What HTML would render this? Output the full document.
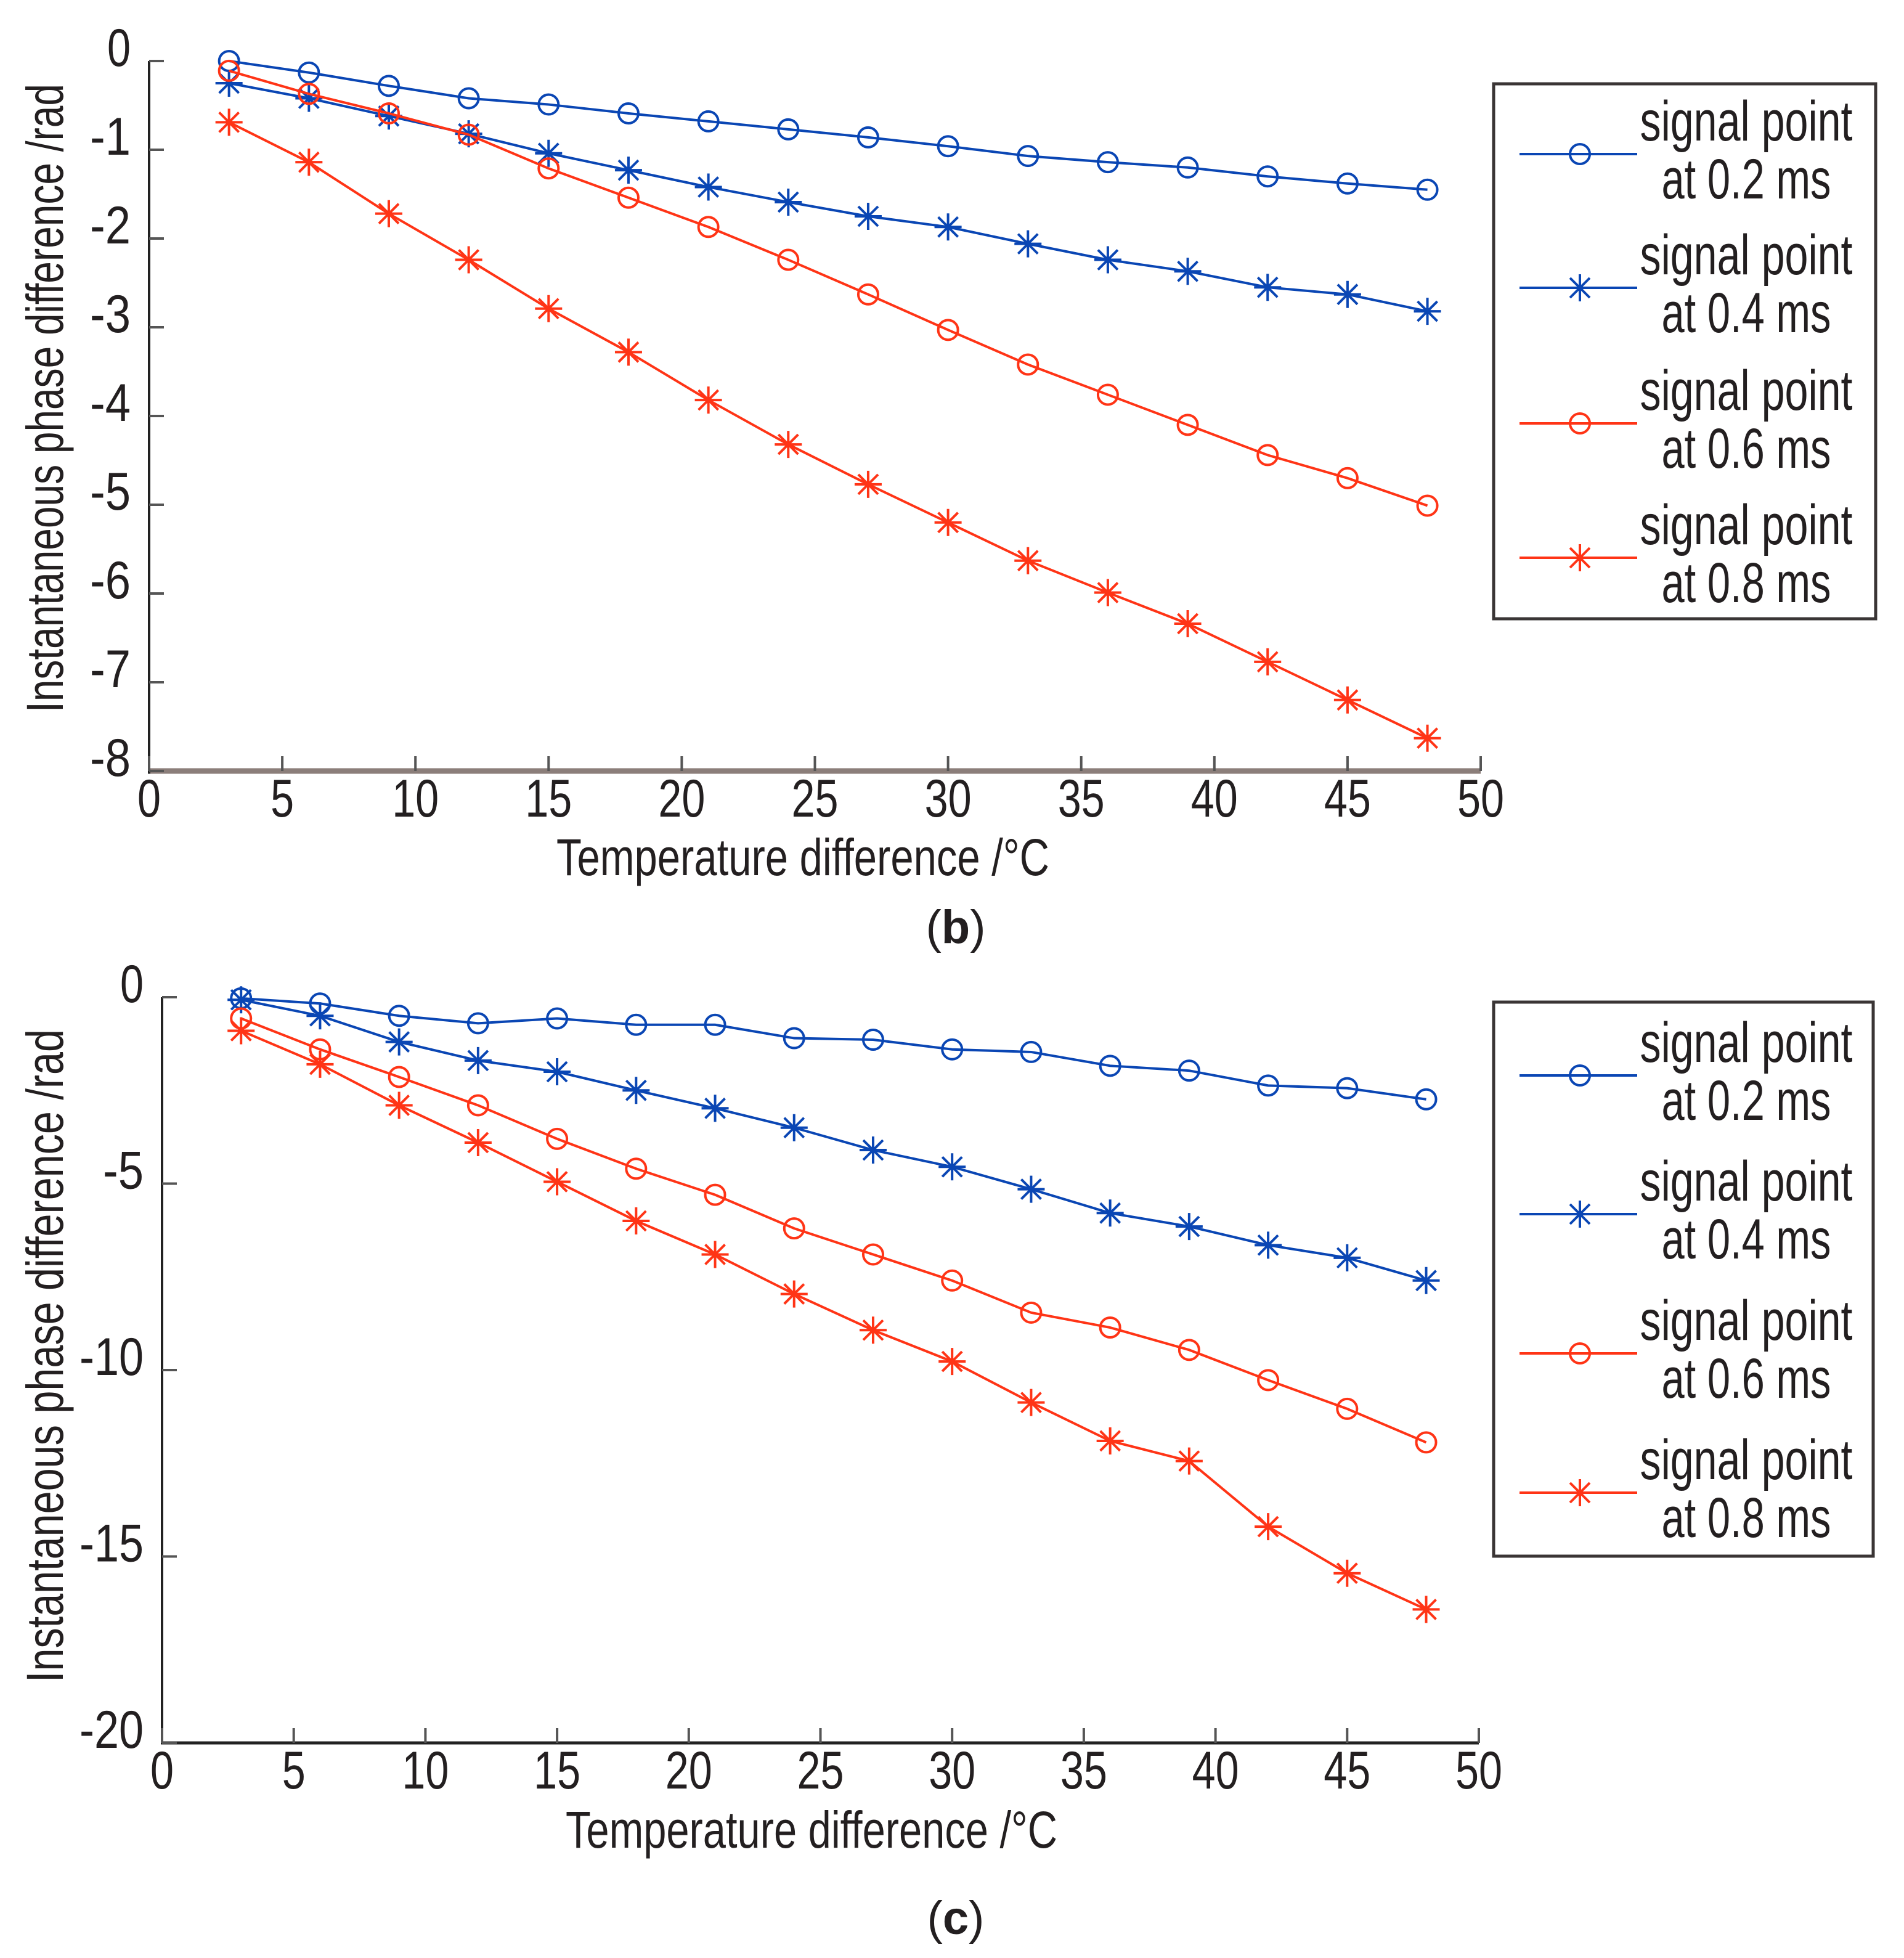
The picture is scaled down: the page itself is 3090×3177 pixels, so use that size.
<!DOCTYPE html>
<html><head><meta charset="utf-8"><style>
html,body{margin:0;padding:0;background:#fff;}
svg{display:block;}
text{font-family:"Liberation Sans Narrow","Liberation Sans",sans-serif;fill:#231f20;}
</style></head><body>
<svg id="fig" width="3090" height="3177" viewBox="0 0 3090 3177" xmlns="http://www.w3.org/2000/svg">
<text x="1303" y="1420" font-size="84" text-anchor="middle" textLength="800" lengthAdjust="spacingAndGlyphs">Temperature difference /°C</text>
<text x="1551" y="1530" font-size="76" text-anchor="middle" font-family="Liberation Serif, serif">(<tspan font-weight="bold">b</tspan>)</text>
<text transform="translate(102,646) rotate(-90)" font-size="84" text-anchor="middle" textLength="1020" lengthAdjust="spacingAndGlyphs">Instantaneous phase difference /rad</text>
<text x="1317" y="2998" font-size="84" text-anchor="middle" textLength="798" lengthAdjust="spacingAndGlyphs">Temperature difference /°C</text>
<text x="1551" y="3138" font-size="76" text-anchor="middle" font-family="Liberation Serif, serif">(<tspan font-weight="bold">c</tspan>)</text>
<text transform="translate(102,2200) rotate(-90)" font-size="84" text-anchor="middle" textLength="1060" lengthAdjust="spacingAndGlyphs">Instantaneous phase difference /rad</text>
</svg>
<script>
const temps = [3,6,9,12,15,18,21,24,27,30,33,36,39,42,45,48];
const xTicks = [0,5,10,15,20,25,30,35,40,45,50];
const bTicks = [0,-1,-2,-3,-4,-5,-6,-7,-8];
const cTicks = [0,-5,-10,-15,-20];
const b02 = [0,-0.13,-0.28,-0.42,-0.49,-0.59,-0.68,-0.77,-0.86,-0.96,-1.07,-1.14,-1.2,-1.3,-1.38,-1.45];
const b04 = [-0.25,-0.42,-0.62,-0.82,-1.04,-1.23,-1.42,-1.59,-1.75,-1.87,-2.06,-2.24,-2.37,-2.55,-2.63,-2.82];
const b06 = [-0.11,-0.37,-0.59,-0.83,-1.21,-1.54,-1.87,-2.24,-2.63,-3.03,-3.42,-3.76,-4.1,-4.44,-4.7,-5.01];
const b08 = [-0.69,-1.14,-1.72,-2.24,-2.79,-3.28,-3.82,-4.32,-4.77,-5.2,-5.63,-5.99,-6.34,-6.77,-7.2,-7.63];
const c02 = [-0.03,-0.17,-0.5,-0.7,-0.57,-0.74,-0.74,-1.1,-1.14,-1.4,-1.47,-1.84,-1.97,-2.37,-2.44,-2.74];
const c04 = [-0.07,-0.5,-1.2,-1.7,-2.0,-2.5,-2.98,-3.5,-4.1,-4.55,-5.15,-5.79,-6.15,-6.65,-6.99,-7.6];
const c06 = [-0.57,-1.4,-2.14,-2.9,-3.8,-4.6,-5.3,-6.2,-6.9,-7.6,-8.46,-8.86,-9.46,-10.27,-11.04,-11.94];
const c08 = [-0.9,-1.8,-2.9,-3.9,-4.95,-6.0,-6.9,-7.96,-8.93,-9.77,-10.87,-11.9,-12.44,-14.2,-15.45,-16.42];
const legendLabels = ["0.2","0.4","0.6","0.8"];

const NS="http://www.w3.org/2000/svg";
const svg=document.getElementById('fig');
function mk(tag,attrs,parent){const e=document.createElementNS(NS,tag);for(const k in attrs)e.setAttribute(k,attrs[k]);(parent||svg).appendChild(e);return e;}
const BLUE="#0a46b4", RED="#ff3416";
function labelLen(s){s=String(s);let n=0;for(const ch of s)n+=(ch==='-'?28:38);return n;}

function marker(g,type,cx,cy,color){
  if(type==='o'){
    const m=mk('circle',{cx:cx,cy:cy,r:16,fill:'none',stroke:color,'stroke-width':4},g);
    
    
  } else {
    const p=mk('path',{d:`M${cx-22},${cy}H${cx+22}M${cx},${cy-22}V${cy+22}M${cx-16},${cy-16}L${cx+16},${cy+16}M${cx-16},${cy+16}L${cx+16},${cy-16}`,stroke:color,'stroke-width':4,fill:'none'},g);
    
    
  }
}

function chart(cfg){
  const g=mk('g',{});
  
  
  const xs=v=>cfg.x0+(v-0)/50*(cfg.x1-cfg.x0);
  const ys=v=>cfg.y0+(cfg.ymax-v)/(cfg.ymax-cfg.ymin)*(cfg.y1-cfg.y0);
  const xa=mk('line',{x1:cfg.x0,y1:cfg.y1,x2:cfg.x1,y2:cfg.y1,stroke:cfg.xColor,'stroke-width':cfg.xW},g);
  
  
  const ya=mk('line',{x1:cfg.x0,y1:cfg.y0,x2:cfg.x0,y2:cfg.y1+cfg.xW/2,stroke:'#222','stroke-width':4},g);
  
  
  xTicks.forEach(t=>{
    const X=xs(t);
    mk('line',{x1:X,y1:cfg.y1,x2:X,y2:cfg.y1-24,stroke:'#555','stroke-width':4},g);
    const tx=mk('text',{x:X,y:cfg.y1+74,'font-size':86,'text-anchor':'middle',textLength:labelLen(t),lengthAdjust:'spacingAndGlyphs'},g);
    tx.textContent=t;
    
    
  });
  cfg.yTicks.forEach(t=>{
    const Y=ys(t);
    mk('line',{x1:cfg.x0,y1:Y,x2:cfg.x0+24,y2:Y,stroke:'#555','stroke-width':4},g);
    const tx=mk('text',{x:cfg.x0-30,y:Y+8,'font-size':86,'text-anchor':'end',textLength:labelLen(t),lengthAdjust:'spacingAndGlyphs'},g);
    tx.textContent=t;
    
    
  });
  cfg.series.forEach((s,i)=>{
    const sg=mk('g',{},g);
    
    
    const pts=temps.map((t,j)=>xs(t)+','+ys(s.data[j])).join(' ');
    const pl=mk('polyline',{points:pts,fill:'none',stroke:s.color,'stroke-width':4},sg);
    
    
    temps.forEach((t,j)=>marker(sg,s.type,xs(t),ys(s.data[j]),s.color));
  });
  const L=cfg.legend;
  const lg=mk('g',{},g);
  
  
  mk('rect',{x:L.x,y:L.y,width:L.w,height:L.h,fill:'#fff',stroke:'#3a3535','stroke-width':5},lg);
  cfg.series.forEach((s,i)=>{
    const ry=L.rows[i];
    const eg=mk('g',{},lg);
    
    
    mk('line',{x1:L.x+42,y1:ry,x2:L.x+233,y2:ry,stroke:s.color,'stroke-width':4},eg);
    marker(eg,s.type,L.x+140,ry,s.color);
    const t1=mk('text',{x:L.x+410,y:ry-22,'font-size':92,'text-anchor':'middle',textLength:345,lengthAdjust:'spacingAndGlyphs'},eg);
    t1.textContent='signal point';
    const t2=mk('text',{x:L.x+410,y:ry+72,'font-size':92,'text-anchor':'middle',textLength:275,lengthAdjust:'spacingAndGlyphs'},eg);
    t2.textContent='at '+legendLabels[i]+' ms';
  });
}

chart({name:'chart-b',x0:242,x1:2403,y0:99,y1:1251,ymax:0,ymin:-8,yTicks:bTicks,xColor:'#8b7e7a',xW:9,
  series:[{data:b02,color:BLUE,type:'o'},{data:b04,color:BLUE,type:'*'},{data:b06,color:RED,type:'o'},{data:b08,color:RED,type:'*'}],
  legend:{x:2424,y:136,w:620,h:868,rows:[250,467,687,905]}});
chart({name:'chart-c',x0:263,x1:2400,y0:1618,y1:2828,ymax:0,ymin:-20,yTicks:cTicks,xColor:'#222',xW:5,
  series:[{data:c02,color:BLUE,type:'o'},{data:c04,color:BLUE,type:'*'},{data:c06,color:RED,type:'o'},{data:c08,color:RED,type:'*'}],
  legend:{x:2424,y:1626,w:616,h:899,rows:[1745,1970,2196,2422]}});
</script>
</body></html>
